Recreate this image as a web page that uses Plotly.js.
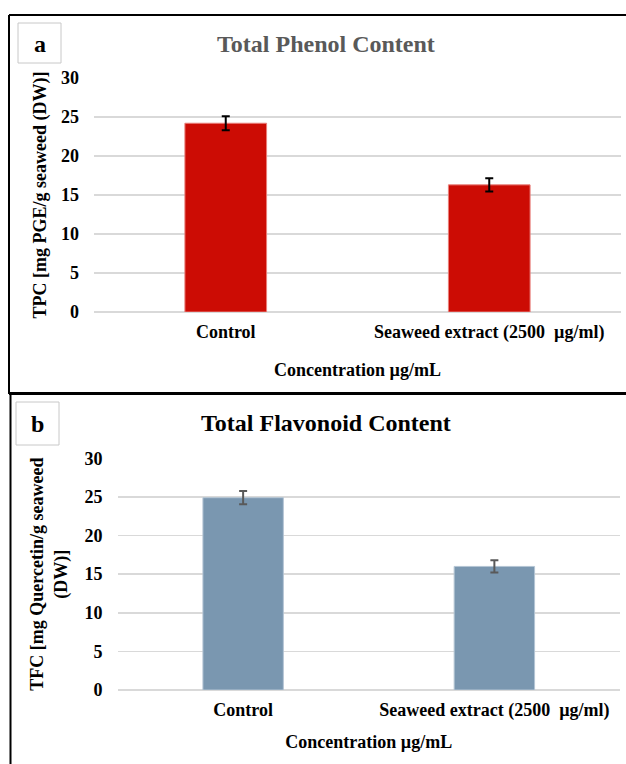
<!DOCTYPE html>
<html>
<head>
<meta charset="utf-8">
<script src="https://cdn.plot.ly/plotly-3.0.1.min.js"></script>
<style>html,body{margin:0;padding:0;background:#fff;}#chart{width:626px;height:764px;}</style>
</head>
<body>
<div id="chart"></div>
<script>
// ---- data ----
const categories = ["Control", "Seaweed extract (2500  µg/ml)"];
const tpcValues = [24.2, 16.3];
const tpcErrors = [0.9, 0.85];
const tfcValues = [24.9, 16.0];
const tfcErrors = [0.85, 0.8];
const yTicks = [0, 5, 10, 15, 20, 25, 30];

const W = 626, H = 764;
const FONT = "Liberation Serif, Times New Roman, serif";
const px = v => v / W;
const py = v => 1 - v / H;

const traces = [
  {
    type: "bar", x: categories, y: tpcValues, xaxis: "x", yaxis: "y",
    width: 0.31,
    marker: {color: "#CC0C04", line: {color: "#E97F7A", width: 1}},
    error_y: {type: "data", array: tpcErrors, visible: true, color: "#000000", thickness: 2, width: 4},
    hoverinfo: "x+y", showlegend: false
  },
  {
    type: "bar", x: categories, y: tfcValues, xaxis: "x2", yaxis: "y2",
    width: 0.32,
    marker: {color: "#7A97B0", line: {color: "#B4C5D4", width: 1}},
    error_y: {type: "data", array: tfcErrors, visible: true, color: "#595959", thickness: 2, width: 4},
    hoverinfo: "x+y", showlegend: false
  }
];

const tickFont = {family: FONT, size: 18, color: "#000", weight: 700};

function yax(domain) {
  return {
    domain: domain, range: [0, 30], tickvals: yTicks, fixedrange: true,
    showgrid: true, gridcolor: "#D9D9D9", gridwidth: 1.5,
    zeroline: true, zerolinecolor: "#D9D9D9", zerolinewidth: 1.5,
    showline: false, ticks: "", tickfont: tickFont, ticklabelstandoff: 14
  };
}
function xax(domain, anchor) {
  return {
    domain: domain, anchor: anchor, fixedrange: true,
    showgrid: false, zeroline: false, showline: false, ticks: "",
    tickfont: tickFont, ticklabelstandoff: 7
  };
}

const layout = {
  width: W, height: H,
  margin: {l: 0, r: 0, t: 0, b: 0},
  paper_bgcolor: "#fff", plot_bgcolor: "#fff",
  showlegend: false,
  xaxis: Object.assign(xax([px(94), px(621)], "y"), {
    title: {text: "Concentration µg/mL", font: tickFont, standoff: 21}
  }),
  yaxis: Object.assign(yax([py(312), py(78)]), {
    title: {text: "TPC [mg PGE/g seaweed (DW)]", font: tickFont, standoff: 9}
  }),
  xaxis2: Object.assign(xax([px(117.5), px(620)], "y2"), {
    title: {text: "Concentration µg/mL", font: tickFont, standoff: 15}
  }),
  yaxis2: Object.assign(yax([py(690), py(458.3)]), {
    anchor: "x2",
    title: {text: "TFC [mg Quercetin/g seaweed<br>(DW)]", font: tickFont, standoff: 12}
  }),
  shapes: [
    // panel a frame
    {type: "line", xref: "paper", yref: "paper", x0: px(9), x1: 1.01, y0: py(15), y1: py(15), line: {color: "#000", width: 2}},
    {type: "line", xref: "paper", yref: "paper", x0: px(9), x1: px(9), y0: py(15), y1: py(394), line: {color: "#000", width: 2}},
    {type: "line", xref: "paper", yref: "paper", x0: px(9), x1: 1.01, y0: py(393.5), y1: py(393.5), line: {color: "#000", width: 3}},
    // panel b frame
    {type: "line", xref: "paper", yref: "paper", x0: px(10.5), x1: px(10.5), y0: py(393), y1: -0.01, line: {color: "#000", width: 2}},
    // label boxes
    {type: "rect", xref: "paper", yref: "paper", x0: px(18), x1: px(61), y0: py(23), y1: py(63), line: {color: "#C8C8C8", width: 1}},
    {type: "rect", xref: "paper", yref: "paper", x0: px(16), x1: px(59), y0: py(402), y1: py(445), line: {color: "#C8C8C8", width: 1}}
  ],
  annotations: [
    {text: "Total Phenol Content", xref: "paper", yref: "paper", x: px(326), y: py(44), showarrow: false,
     xanchor: "center", yanchor: "middle", font: {family: FONT, size: 24, color: "#595959", weight: 700}},
    {text: "Total Flavonoid Content", xref: "paper", yref: "paper", x: px(326), y: py(423), showarrow: false,
     xanchor: "center", yanchor: "middle", font: {family: FONT, size: 24, color: "#000", weight: 700}},
    {text: "a", xref: "paper", yref: "paper", x: px(39.5), y: py(44), showarrow: false,
     xanchor: "center", yanchor: "middle", font: {family: FONT, size: 24, color: "#000", weight: 700}},
    {text: "b", xref: "paper", yref: "paper", x: px(37.5), y: py(424), showarrow: false,
     xanchor: "center", yanchor: "middle", font: {family: FONT, size: 24, color: "#000", weight: 700}}
  ]
};

Plotly.newPlot("chart", traces, layout, {displayModeBar: false, staticPlot: true});
</script>
</body>
</html>
